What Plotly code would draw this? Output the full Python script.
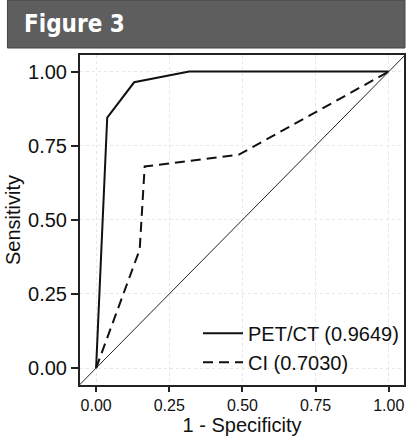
import plotly.graph_objects as go

# ROC data
pet_x = [0.0, 0.038, 0.130, 0.318, 1.0]
pet_y = [0.0, 0.845, 0.964, 1.0, 1.0]
ci_x = [0.0, 0.149, 0.166, 0.488, 1.0]
ci_y = [0.0, 0.400, 0.680, 0.720, 1.0]
diag = [-0.1, 1.1]
tick_vals = [0, 0.25, 0.5, 0.75, 1.0]
tick_text = ["0.00", "0.25", "0.50", "0.75", "1.00"]
names = ["PET/CT (0.9649)", "CI (0.7030)"]

FONT = "Liberation Sans, Arial, Helvetica, sans-serif"

fig = go.Figure()
fig.add_trace(go.Scatter(x=diag, y=diag, mode="lines",
                         line=dict(color="#222", width=1), showlegend=False,
                         hoverinfo="skip"))
fig.add_trace(go.Scatter(x=pet_x, y=pet_y, mode="lines", name=names[0],
                         line=dict(color="#111", width=2)))
fig.add_trace(go.Scatter(x=ci_x, y=ci_y, mode="lines", name=names[1],
                         line=dict(color="#111", width=2, dash="10px,6px")))

axis_common = dict(
    tickvals=tick_vals, ticktext=tick_text, ticks="outside",
    tickwidth=1.5, tickcolor="#222", showline=True, linecolor="#222",
    linewidth=2, mirror=True, showgrid=True, gridcolor="#e6e6e6",
    griddash="dot", gridwidth=1, zeroline=False,
)

fig.update_layout(
    width=407, height=439,
    margin=dict(l=80, r=1, t=55, b=54),
    paper_bgcolor="white", plot_bgcolor="white",
    font=dict(family=FONT, color="#111"),
    xaxis=dict(range=[-0.055, 1.052], ticklen=5,
               title=dict(text="1 - Specificity", font=dict(size=20), standoff=0),
               tickfont=dict(size=16), **axis_common),
    yaxis=dict(range=[-0.057, 1.056], ticklen=7,
               title=dict(text="Sensitivity", font=dict(size=20), standoff=2),
               tickfont=dict(size=20), **axis_common),
    legend=dict(x=1.0, xanchor="right", y=0.01, yanchor="bottom",
                bgcolor="rgba(0,0,0,0)", font=dict(size=20),
                itemwidth=40, tracegroupgap=0),
    shapes=[
        dict(type="rect", xref="paper", yref="paper",
             x0=(7 - 80) / 326, x1=(407 - 80) / 326,
             y0=(385 - 48) / 330, y1=(385 - 0) / 330,
             fillcolor="#5e5e5e", line=dict(color="#444", width=1), layer="above"),
    ],
    annotations=[
        dict(text="<b>Figure 3</b>", xref="paper", yref="paper",
             x=(22 - 80) / 326, xanchor="left",
             y=(385 - 24) / 330, yanchor="middle", showarrow=False,
             font=dict(family="DejaVu Sans Condensed, DejaVu Sans", size=24,
                       color="white")),
    ],
)

fig.write_html("out.html", config={"displayModeBar": False},
               post_script="document.body.style.margin='0';document.body.style.overflow='hidden';")
